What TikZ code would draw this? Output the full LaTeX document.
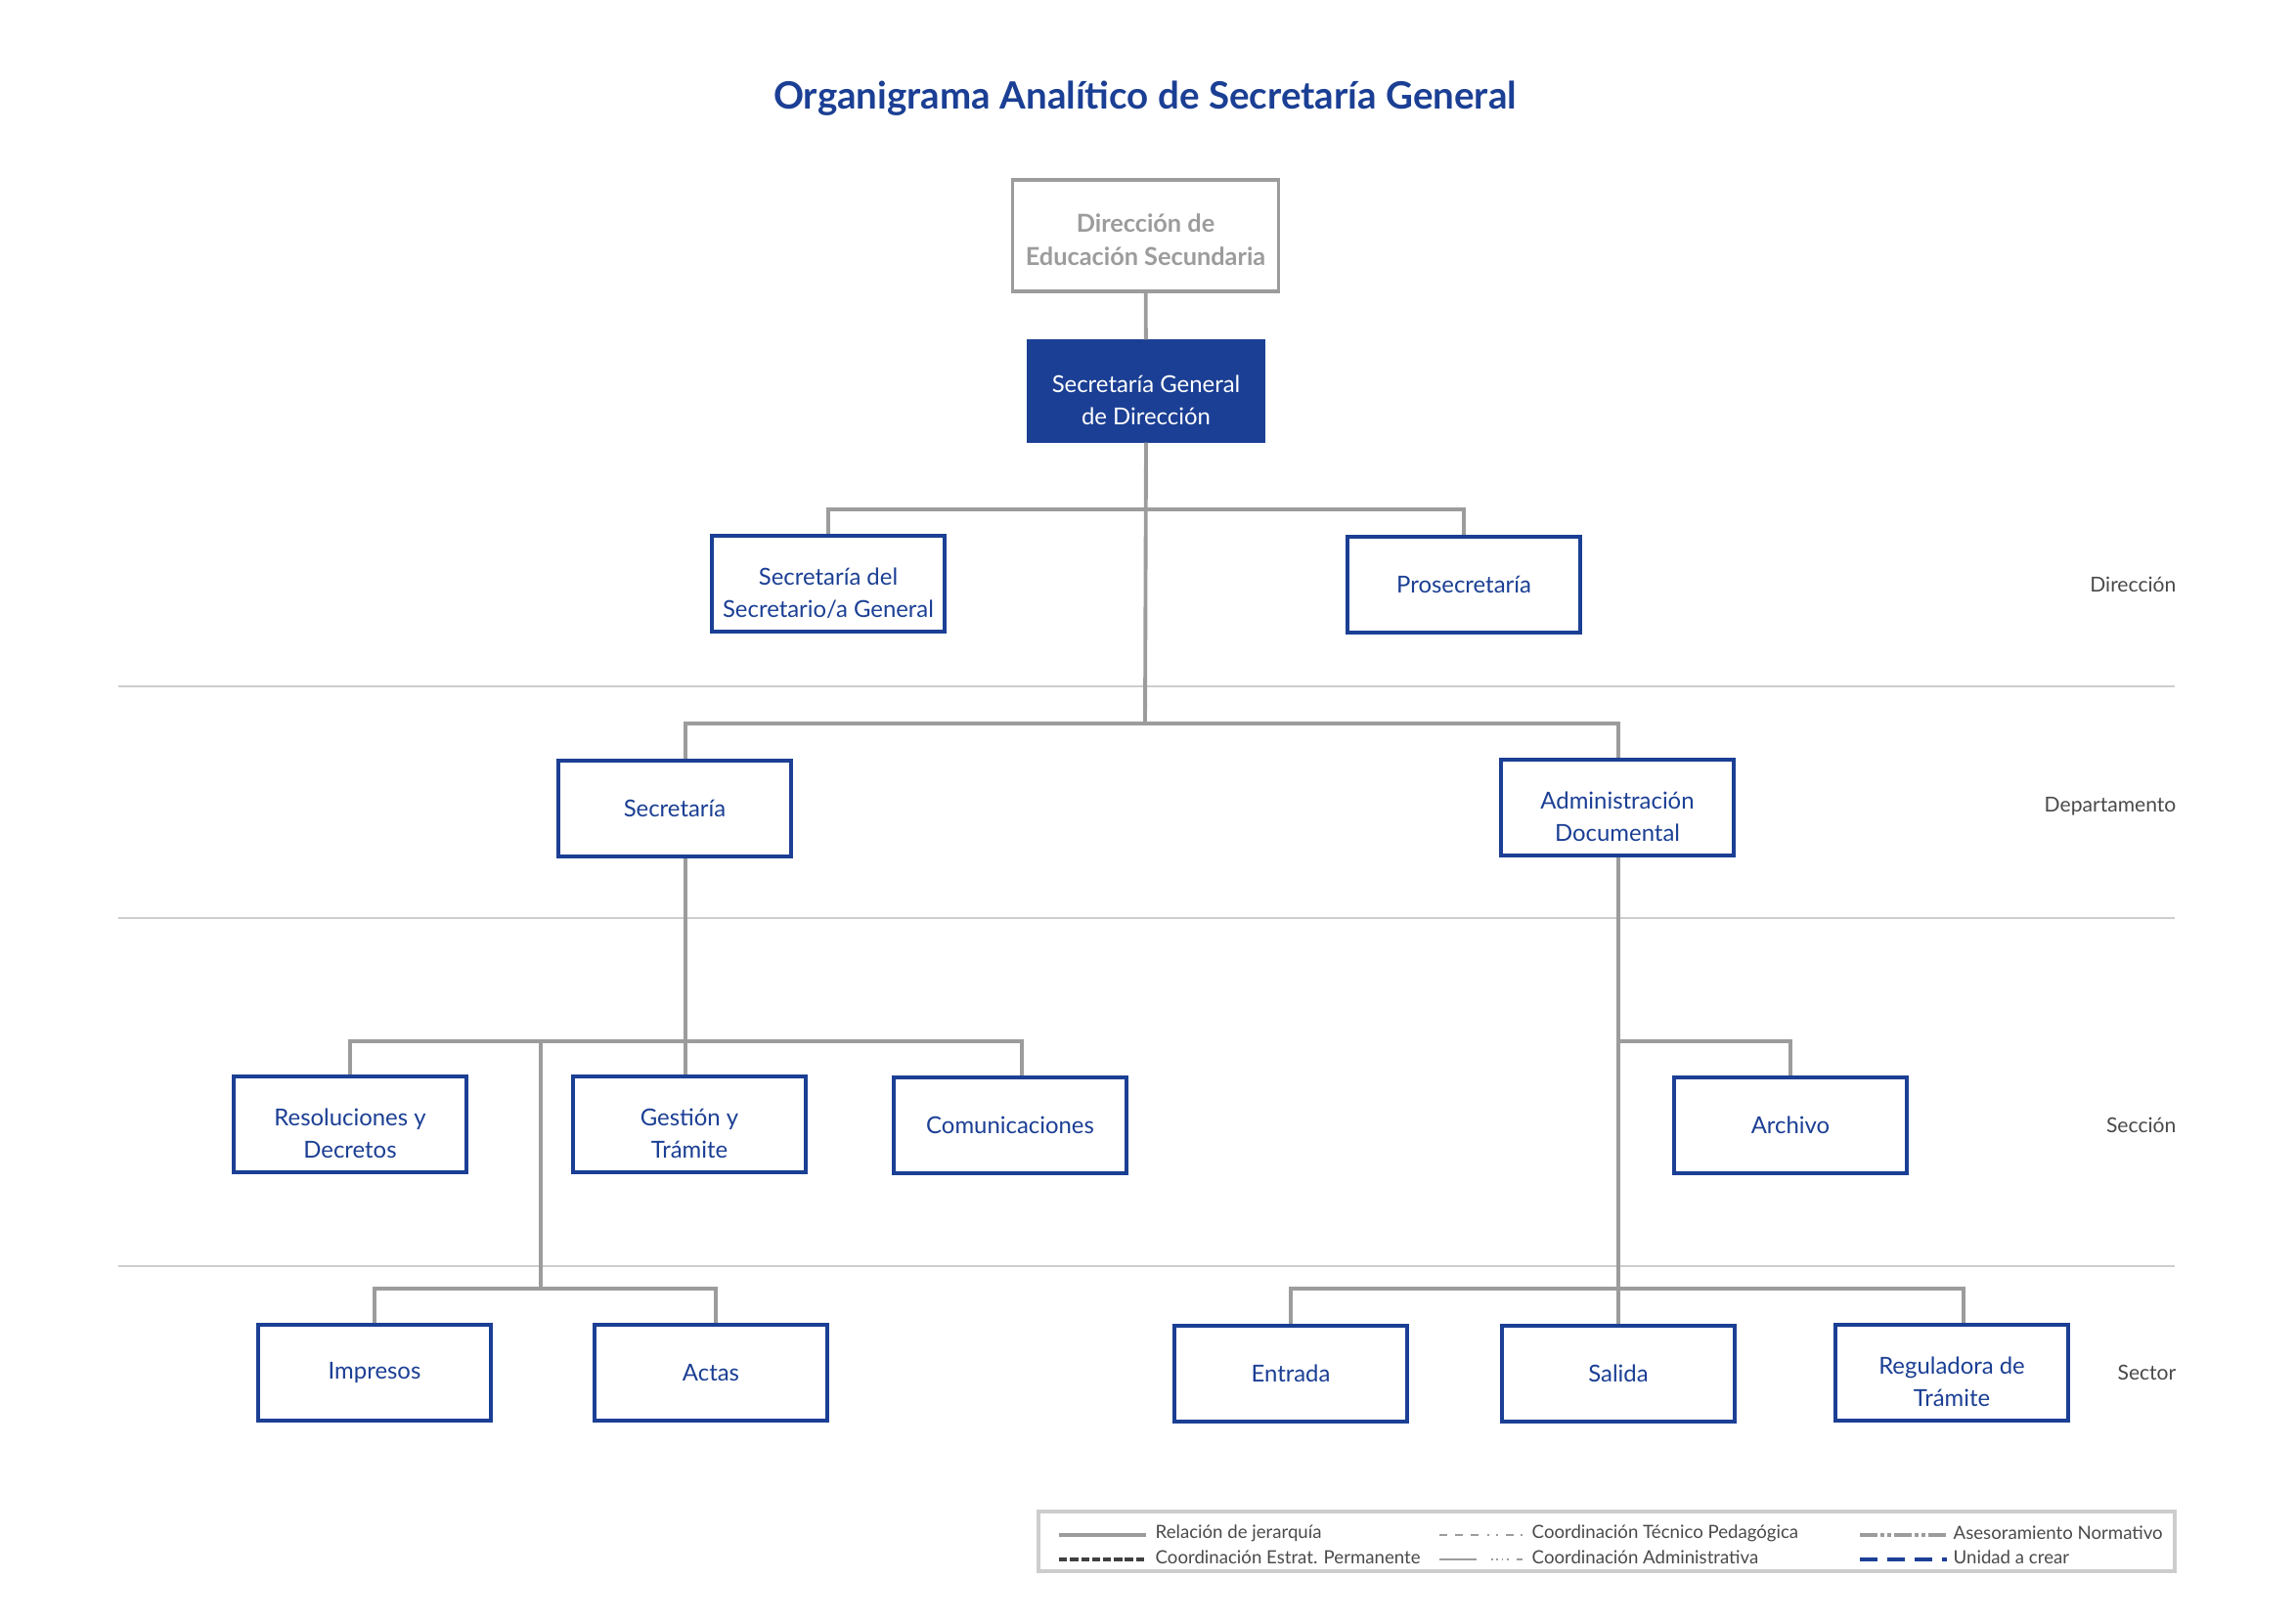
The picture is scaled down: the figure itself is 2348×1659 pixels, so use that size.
\documentclass[tikz,border=0pt]{standalone}
\usepackage{fontspec}
\setmainfont{Lato}
\definecolor{azul}{HTML}{1B3F94}
\definecolor{gris}{HTML}{9C9C9C}
\definecolor{grisclaro}{HTML}{CDCDCD}
\definecolor{texto}{HTML}{4A4A4A}
\tikzset{
  unidad/.style={draw=azul,line width=0.9pt,text=azul,fill=white,align=center,
    minimum width=23.8mm,minimum height=9.8mm,inner sep=0pt,
    font=\fontsize{6.8}{9.4}\selectfont},
  doble/.style={text height=19.8pt,text depth=0pt},
  rel/.style={draw=gris,line width=1.1pt},
  nivel/.style={anchor=east,inner sep=0pt,text=texto,font=\fontsize{6}{7}\selectfont},
  leyenda/.style={anchor=west,text=texto,inner sep=0pt,font=\fontsize{5.3}{6}\selectfont},
  sep/.style={draw=grisclaro,line width=0.4pt}
}
\begin{document}
\begin{tikzpicture}[x=0.1mm,y=-0.1mm]
  \useasboundingbox (0,0) rectangle (2348,1659);
  % titulo
  \node[text=azul,font=\fontsize{10.95}{12}\selectfont\bfseries] (tit) at (1171,101) {Organigrama Analítico de Secretaría General};
  % separadores de niveles
  \foreach \y in {702,939,1295} \draw[sep] (121,\y) -- (2224,\y);
  \node[nivel] (lDir) at (2226,598) {Dirección};
  \node[nivel] (lDep) at (2226,825) {Departamento};
  \node[nivel] (lSec) at (2226,1151) {Sección};
  \node[nivel] (lSct) at (2226,1404) {Sector};
  % unidades
  \node[unidad,draw=gris,text=gris,line width=1.1pt,minimum width=27.2mm,minimum height=11.4mm,
    font=\fontsize{7.2}{9.6}\selectfont\bfseries,text height=17.3pt,text depth=0pt] (dir) at (1171.5,241) {Dirección de\\Educación Secundaria};
  \node[unidad,doble,fill=azul,text=white,draw=azul,minimum width=24mm,minimum height=10.2mm] (sg) at (1172,400) {Secretaría General\\de Dirección};
  \node[unidad,doble] (ssg) at (847,597) {Secretaría del\\Secretario/a General};
  \node[unidad] (pro) at (1497,598) {Prosecretaría};
  \node[unidad] (sec) at (690,827) {Secretaría};
  \node[unidad,doble] (adm) at (1654,826) {Administración\\Documental};
  \node[unidad,doble] (res) at (358,1150) {Resoluciones y\\Decretos};
  \node[unidad,doble] (ges) at (705,1150) {Gestión y\\Trámite};
  \node[unidad] (com) at (1033,1151) {Comunicaciones};
  \node[unidad] (arc) at (1831,1151) {Archivo};
  \node[unidad] (imp) at (383,1404) {Impresos};
  \node[unidad] (act) at (727,1404) {Actas};
  \node[unidad] (ent) at (1320,1405) {Entrada};
  \node[unidad] (sal) at (1655,1405) {Salida};
  \node[unidad,doble] (reg) at (1996,1404) {Reguladora de\\Trámite};
  % relaciones de jerarquia
  \coordinate (jDir) at (1171,521);
  \coordinate (jDep) at (1171,740);
  \coordinate (jSec) at (701,1065);
  \coordinate (jImpA) at (553,1065);
  \coordinate (jImpB) at (553,1318);
  \coordinate (jArc) at (1655,1065);
  \coordinate (jAdm) at (1655,1318);
  \draw[rel] (dir) -- (sg);
  \draw[rel] (ssg.north) |- (jDir) -| (pro.north);
  \draw[rel] (sg.south) -- (jDep);
  \draw[rel] (sec.north -| jSec) |- (jDep) -| (adm.north -| jAdm);
  \draw[rel] (sec.south -| jSec) -- (jSec);
  \draw[rel] (res.north) |- (jSec) -| (com.north -| 1045,0);
  \draw[rel] (ges.north -| jSec) -- (jSec);
  \draw[rel] (jImpA) -- (jImpB);
  \draw[rel] (imp.north) |- (jImpB) -| (act.north -| 732,0);
  \draw[rel] (adm.south -| jAdm) -- (jAdm);
  \draw[rel] (arc.north) |- (jArc);
  \draw[rel] (ent.north) |- (jAdm) -| (reg.north -| 2008,0);
  \draw[rel] (sal.north -| jAdm) -- (jAdm);
  % leyenda
  \draw[draw=grisclaro,line width=1pt,fill=white] (1062,1546) rectangle (2224,1607);
  \draw[gris,line width=1.1pt] (1083,1570) -- (1172,1570);
  \node[leyenda] (l1) at (1181,1568) {Relación de jerarquía};
  \draw[black!75,line width=1.1pt,dash pattern=on 2.4pt off 0.8pt] (1083,1595) -- (1172,1595);
  \node[leyenda] (l2) at (1181,1593) {Coordinación Estrat. Permanente};
  \draw[gris,line width=0.5pt,dash pattern=on 2.2pt off 2.4pt on 2.2pt off 2.4pt on 2.2pt off 2.4pt on 0.6pt off 2.2pt on 0.6pt off 2.2pt on 2.2pt off 2pt] (1472,1570) -- (1557,1570);
  \node[leyenda] (l3) at (1566,1568) {Coordinación Técnico Pedagógica};
  \draw[gris,line width=0.5pt] (1472,1595) -- (1510,1595);
  \draw[gris,line width=0.5pt,dash pattern=on 0.5pt off 1pt] (1525,1595) -- (1545,1595);
  \draw[gris,line width=0.5pt] (1551,1595) -- (1557,1595);
  \node[leyenda] (l4) at (1566,1593) {Coordinación Administrativa};
  \draw[gris,line width=1.1pt,dash pattern=on 5pt off 1pt on 1pt off 1pt on 1pt off 1pt] (1902,1570) -- (1991,1570);
  \node[leyenda] (l5) at (1997,1568) {Asesoramiento Normativo};
  \draw[azul,line width=1.1pt,dash pattern=on 5pt off 3pt] (1902,1595) -- (1991,1595);
  \node[leyenda] (l6) at (1997,1593) {Unidad a crear};
\end{tikzpicture}
\end{document}
